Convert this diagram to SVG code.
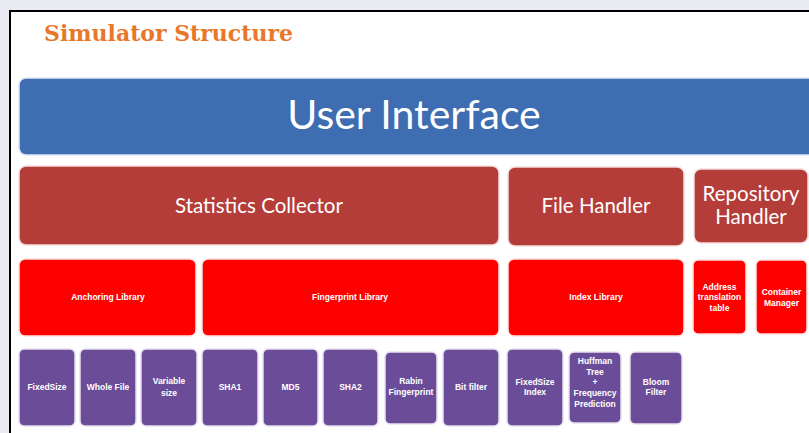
<svg xmlns="http://www.w3.org/2000/svg" width="809" height="433" viewBox="0 0 809 433">
  <style>
    .title { font-family: "DejaVu Serif", "Liberation Serif", serif; font-weight: bold; font-size: 22px; fill: #e8772a; }
    .blue { fill: #3e6db1; stroke: #dfe6f2; stroke-width: 1.5; }
    .dark { fill: #b43d3a; stroke: #f3dede; stroke-width: 1.5; }
    .red { fill: #fe0000; stroke: #ffe0e0; stroke-width: 1.5; }
    .purple { fill: #6b4c99; stroke: #e6e0ee; stroke-width: 1.5; }
    text { font-family: "Lato", "Open Sans", sans-serif; fill: #ffffff; text-anchor: middle; }
    .big { font-size: 41px; }
    .mid { font-size: 20.5px; }
    .small { font-size: 8.5px; font-weight: bold; font-family: "Liberation Sans", Arial, sans-serif; }
  </style>

  <!-- page backdrop and slide frame -->
  <rect x="0" y="0" width="809" height="433" fill="#ebebf4"/>
  <rect x="10" y="11" width="810" height="430" fill="#ffffff" stroke="#000000" stroke-width="2"/>

  <text class="title" x="44" y="41" style="text-anchor:start; fill:#e8772a">Simulator Structure</text>

  <g id="connectors"></g>

  <!-- top layer -->
  <g id="user-interface">
    <rect class="blue" x="19" y="78" width="800" height="77" rx="7"/>
    <text class="big" x="414" y="129">User Interface</text>
  </g>

  <!-- second layer -->
  <g id="statistics-collector">
    <rect class="dark" x="19" y="166" width="480" height="79" rx="7"/>
    <text class="mid" x="259" y="213">Statistics Collector</text>
  </g>
  <g id="file-handler">
    <rect class="dark" x="508" y="167" width="176" height="79" rx="7"/>
    <text class="mid" x="596" y="213">File Handler</text>
  </g>
  <g id="repository-handler">
    <rect class="dark" x="694" y="169" width="114" height="74" rx="7"/>
    <text class="mid" x="751" y="201">Repository</text>
    <text class="mid" x="751" y="224">Handler</text>
  </g>

  <!-- libraries -->
  <g id="anchoring-library">
    <rect class="red" x="19" y="259" width="177" height="77" rx="6"/>
    <text class="small" x="108" y="300">Anchoring Library</text>
  </g>
  <g id="fingerprint-library">
    <rect class="red" x="202" y="259" width="297" height="77" rx="6"/>
    <text class="small" x="350" y="300">Fingerprint Library</text>
  </g>
  <g id="index-library">
    <rect class="red" x="508" y="259" width="176" height="77" rx="6"/>
    <text class="small" x="596" y="300">Index Library</text>
  </g>
  <g id="address-translation-table">
    <rect class="red" x="693" y="260" width="53" height="74" rx="5"/>
    <text class="small" x="719.5" y="290">Address</text>
    <text class="small" x="719.5" y="300">translation</text>
    <text class="small" x="719.5" y="311">table</text>
  </g>
  <g id="container-manager">
    <rect class="red" x="756" y="260" width="51" height="74" rx="5"/>
    <text class="small" x="781.5" y="295">Container</text>
    <text class="small" x="781.5" y="306">Manager</text>
  </g>

  <!-- implementations -->
  <g id="fixed-size">
    <rect class="purple" x="19" y="349" width="56" height="77" rx="5"/>
    <text class="small" x="47" y="390">FixedSize</text>
  </g>
  <g id="whole-file">
    <rect class="purple" x="80" y="349" width="56" height="77" rx="5"/>
    <text class="small" x="108" y="390">Whole File</text>
  </g>
  <g id="variable-size">
    <rect class="purple" x="141" y="349" width="56" height="77" rx="5"/>
    <text class="small" x="169" y="384">Variable</text>
    <text class="small" x="169" y="396">size</text>
  </g>
  <g id="sha1">
    <rect class="purple" x="202" y="349" width="56" height="77" rx="5"/>
    <text class="small" x="230" y="390">SHA1</text>
  </g>
  <g id="md5">
    <rect class="purple" x="263" y="349" width="55" height="77" rx="5"/>
    <text class="small" x="290.5" y="390">MD5</text>
  </g>
  <g id="sha2">
    <rect class="purple" x="323" y="349" width="55" height="77" rx="5"/>
    <text class="small" x="350.5" y="390">SHA2</text>
  </g>
  <g id="rabin-fingerprint">
    <rect class="purple" x="385" y="352" width="52" height="72" rx="5"/>
    <text class="small" x="411" y="384">Rabin</text>
    <text class="small" x="411" y="395">Fingerprint</text>
  </g>
  <g id="bit-filter">
    <rect class="purple" x="443" y="349" width="56" height="77" rx="5"/>
    <text class="small" x="471" y="390">Bit filter</text>
  </g>
  <g id="fixed-size-index">
    <rect class="purple" x="507" y="349" width="56" height="77" rx="5"/>
    <text class="small" x="535" y="385">FixedSize</text>
    <text class="small" x="535" y="395">Index</text>
  </g>
  <g id="huffman-tree">
    <rect class="purple" x="569" y="352" width="52" height="71" rx="5"/>
    <text class="small" x="595" y="364">Huffman</text>
    <text class="small" x="595" y="375">Tree</text>
    <text class="small" x="595" y="385">+</text>
    <text class="small" x="595" y="396">Frequency</text>
    <text class="small" x="595" y="407">Prediction</text>
  </g>
  <g id="bloom-filter">
    <rect class="purple" x="630" y="352" width="52" height="72" rx="5"/>
    <text class="small" x="656" y="385">Bloom</text>
    <text class="small" x="656" y="395">Filter</text>
  </g>
</svg>
